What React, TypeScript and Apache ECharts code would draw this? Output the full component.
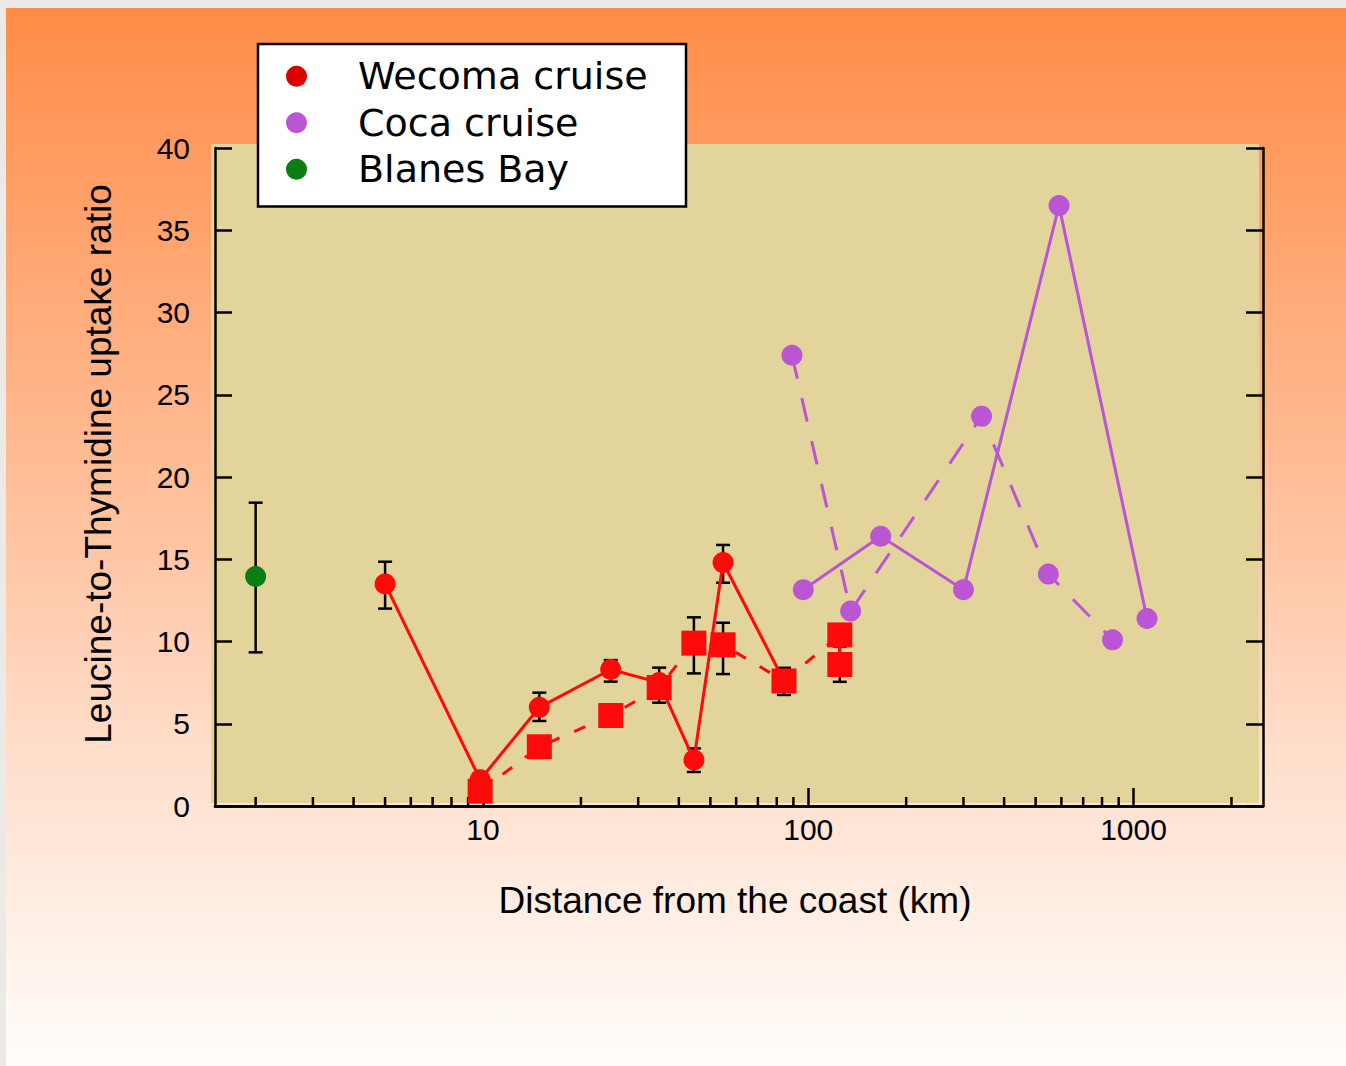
import React, { useEffect, useRef } from "react";
import * as echarts from "echarts";

// Axis ticks
const xTickLabels = [10, 100, 1000];
const xMinorTicks = [2, 3, 4, 5, 6, 7, 8, 9, 20, 30, 40, 50, 60, 70, 80, 90, 200, 300, 400, 500, 600, 700, 800, 900, 2000];

// Wecoma cruise, circles (solid line)
const wecomaCircleX = [5.0, 9.8, 14.9, 24.7, 34.8, 44.5, 54.7, 84.2];
const wecomaCircleY = [13.5, 1.6, 6.0, 8.3, 7.5, 2.8, 14.8, 7.6];

// Wecoma cruise, squares (dashed line)
const wecomaSquareX = [9.8, 14.9, 24.7, 34.8, 44.5, 54.7, 84.2, 125, 125];
const wecomaSquareY = [0.9, 3.6, 5.5, 7.2, 9.9, 9.8, 7.6, 10.4, 8.6];

// Wecoma cruise error bars
const wecomaErrX = [5.0, 14.9, 24.7, 34.8, 44.5, 54.7, 44.5, 54.7, 84.2, 125];
const wecomaErrLow = [12.0, 5.17, 7.56, 6.28, 2.07, 13.57, 8.06, 8.02, 6.75, 7.55];
const wecomaErrHigh = [14.85, 6.89, 8.87, 8.41, 3.5, 15.87, 11.47, 11.14, 8.4, 9.7];

// Coca cruise
const cocaDashX = [89.1, 135, 341, 547, 862];
const cocaDashY = [27.4, 11.85, 23.7, 14.1, 10.1];
const cocaSolidX = [96.5, 167, 300, 590, 1100];
const cocaSolidY = [13.15, 16.4, 13.15, 36.5, 11.4];

// Blanes Bay
const blanesX = [2];
const blanesY = [13.95];
const blanesErrLow = [9.34];
const blanesErrHigh = [18.44];

const RED = "#FF0A0A";
const PURPLE = "#BA55D3";
const GREEN = "#0A7D14";
const AXIS_FONT = "'Liberation Sans', Arial, Helvetica, sans-serif";
const LEGEND_FONT = "'DejaVu Sans', 'Open Sans', sans-serif";

const pairs = (xs: number[], ys: number[]) => xs.map((x, i) => [x, ys[i]]);
const triples = (xs: number[], lo: number[], hi: number[]) => xs.map((x, i) => [x, lo[i], hi[i]]);

const errorBarRender = (params: any, api: any) => {
  const x = api.value(0);
  const pLo = api.coord([x, api.value(1)]);
  const pHi = api.coord([x, api.value(2)]);
  const cap = 7;
  const style = { stroke: "#000", lineWidth: 2.5 };
  return {
    type: "group",
    children: [
      { type: "line", shape: { x1: pLo[0], y1: pLo[1], x2: pHi[0], y2: pHi[1] }, style },
      { type: "line", shape: { x1: pLo[0] - cap, y1: pLo[1], x2: pLo[0] + cap, y2: pLo[1] }, style },
      { type: "line", shape: { x1: pHi[0] - cap, y1: pHi[1], x2: pHi[0] + cap, y2: pHi[1] }, style },
    ],
  };
};

const minorTickRender = (params: any, api: any) => {
  const p = api.coord([api.value(0), 0]);
  return {
    type: "line",
    shape: { x1: p[0], y1: p[1], x2: p[0], y2: p[1] - 9 },
    style: { stroke: "#000", lineWidth: 2.5 },
  };
};

export default function App() {
  const ref = useRef<HTMLDivElement>(null);

  useEffect(() => {
    const chart = echarts.init(ref.current!, null, { renderer: "svg" });
    const option: any = {
      animation: false,
      backgroundColor: "#ECEAE6",
      graphic: [
        {
          type: "rect",
          z: -20,
          silent: true,
          shape: { x: 6, y: 8, width: 1340, height: 1058 },
          style: {
            fill: {
              type: "linear",
              x: 0,
              y: 0,
              x2: 0,
              y2: 1,
              colorStops: [
                { offset: 0, color: "#FF8C48" },
                { offset: 0.45, color: "#FFBE98" },
                { offset: 0.72, color: "#FFE0CE" },
                { offset: 1, color: "#FFFDFB" },
              ],
            },
          },
        },
        {
          type: "rect",
          z: -10,
          silent: true,
          shape: { x: 211, y: 144, width: 1048, height: 659 },
          style: { fill: "#E2D49B" },
        },
      ],
      legend: {
        left: 258,
        top: 44,
        orient: "vertical",
        backgroundColor: "#FFFFFF",
        borderColor: "#000000",
        borderWidth: 2.5,
        borderRadius: 0,
        padding: [9, 28, 14, 28],
        itemWidth: 21,
        itemHeight: 21,
        itemGap: 0,
        selectedMode: false,
        textStyle: {
          fontFamily: LEGEND_FONT,
          fontSize: 38,
          color: "#000",
          lineHeight: 46.5,
          width: 300,
          padding: [0, 0, 0, 46],
        },
        data: [
          { name: "Wecoma cruise", icon: "circle", itemStyle: { color: "#DC0000" } },
          { name: "Coca cruise", icon: "circle", itemStyle: { color: PURPLE } },
          { name: "Blanes Bay", icon: "circle", itemStyle: { color: GREEN } },
        ],
      },
      grid: { left: 215, top: 148, right: 83, bottom: 260, containLabel: false },
      xAxis: [
        {
          type: "log",
          logBase: 10,
          min: 1.5,
          max: 2500,
          position: "bottom",
          name: "Distance from the coast (km)",
          nameLocation: "middle",
          nameGap: 76,
          nameTextStyle: { fontFamily: AXIS_FONT, fontSize: 37, color: "#000", padding: [0, 8, 0, 0] },
          axisLine: { show: true, lineStyle: { color: "#000", width: 2.5 } },
          axisTick: { show: true, inside: true, length: 18, lineStyle: { color: "#000", width: 2.5 } },
          axisLabel: {
            margin: 8,
            fontFamily: AXIS_FONT,
            fontSize: 30,
            color: "#000",
            showMinLabel: false,
            showMaxLabel: false,
            formatter: (v: number) => {
              const r = Math.round(v);
              return xTickLabels.includes(r) ? String(r) : "";
            },
          },
          splitLine: { show: false },
        },
        {
          type: "log",
          logBase: 10,
          min: 1.5,
          max: 2500,
          position: "top",
          axisLine: { show: true, lineStyle: { color: "#000", width: 2.5 } },
          axisTick: { show: false },
          axisLabel: { show: false },
          splitLine: { show: false },
        },
      ],
      yAxis: [
        {
          type: "value",
          min: 0,
          max: 40,
          interval: 5,
          position: "left",
          name: "Leucine-to-Thymidine uptake ratio",
          nameLocation: "middle",
          nameGap: 98,
          nameTextStyle: { fontFamily: AXIS_FONT, fontSize: 37, color: "#000", padding: [0, 0, 0, 26] },
          axisLine: { show: true, lineStyle: { color: "#000", width: 2.5 } },
          axisTick: { show: true, inside: true, length: 17, lineStyle: { color: "#000", width: 2.5 } },
          axisLabel: {
            margin: 25,
            fontFamily: AXIS_FONT,
            fontSize: 30,
            color: "#000",
            verticalAlign: "middle",
            padding: [0, 0, 8, 0],
          },
          splitLine: { show: false },
        },
        {
          type: "value",
          min: 0,
          max: 40,
          interval: 5,
          position: "right",
          axisLine: { show: true, lineStyle: { color: "#000", width: 2.5 } },
          axisTick: { show: true, inside: true, length: 17, lineStyle: { color: "#000", width: 2.5 } },
          axisLabel: { show: false },
          splitLine: { show: false },
        },
      ],
      series: [
        {
          name: "minor ticks",
          type: "custom",
          silent: true,
          clip: false,
          z: 1,
          renderItem: minorTickRender,
          encode: { x: 0, y: 1 },
          data: xMinorTicks.map((v) => [v, 0]),
        },
        {
          name: "Wecoma error",
          type: "custom",
          silent: true,
          z: 1,
          renderItem: errorBarRender,
          encode: { x: 0, y: [1, 2] },
          data: triples(wecomaErrX, wecomaErrLow, wecomaErrHigh),
        },
        {
          name: "Blanes error",
          type: "custom",
          silent: true,
          z: 1,
          renderItem: errorBarRender,
          encode: { x: 0, y: [1, 2] },
          data: triples(blanesX, blanesErrLow, blanesErrHigh),
        },
        {
          name: "Wecoma cruise",
          type: "line",
          z: 2,
          symbol: "circle",
          symbolSize: 21,
          showSymbol: true,
          lineStyle: { color: RED, width: 3 },
          itemStyle: { color: RED },
          data: pairs(wecomaCircleX, wecomaCircleY),
        },
        {
          name: "Wecoma cruise",
          type: "line",
          z: 3,
          symbol: "rect",
          symbolSize: 25,
          showSymbol: true,
          lineStyle: { color: RED, width: 3, type: [12, 16] },
          itemStyle: { color: RED },
          data: pairs(wecomaSquareX, wecomaSquareY),
        },
        {
          name: "Coca cruise",
          type: "line",
          z: 2,
          symbol: "circle",
          symbolSize: 21,
          showSymbol: true,
          lineStyle: { color: PURPLE, width: 3, type: [24, 20] },
          itemStyle: { color: PURPLE },
          data: pairs(cocaDashX, cocaDashY),
        },
        {
          name: "Coca cruise",
          type: "line",
          z: 2,
          symbol: "circle",
          symbolSize: 21,
          showSymbol: true,
          lineStyle: { color: PURPLE, width: 3 },
          itemStyle: { color: PURPLE },
          data: pairs(cocaSolidX, cocaSolidY),
        },
        {
          name: "Blanes Bay",
          type: "scatter",
          z: 3,
          symbol: "circle",
          symbolSize: 21,
          itemStyle: { color: GREEN, opacity: 1 },
          data: pairs(blanesX, blanesY),
        },
      ],
    };
    chart.setOption(option);
    return () => chart.dispose();
  }, []);

  return (
    <div
      ref={ref}
      style={{ position: "fixed", left: 0, top: 0, width: 1346, height: 1066 }}
    />
  );
}
